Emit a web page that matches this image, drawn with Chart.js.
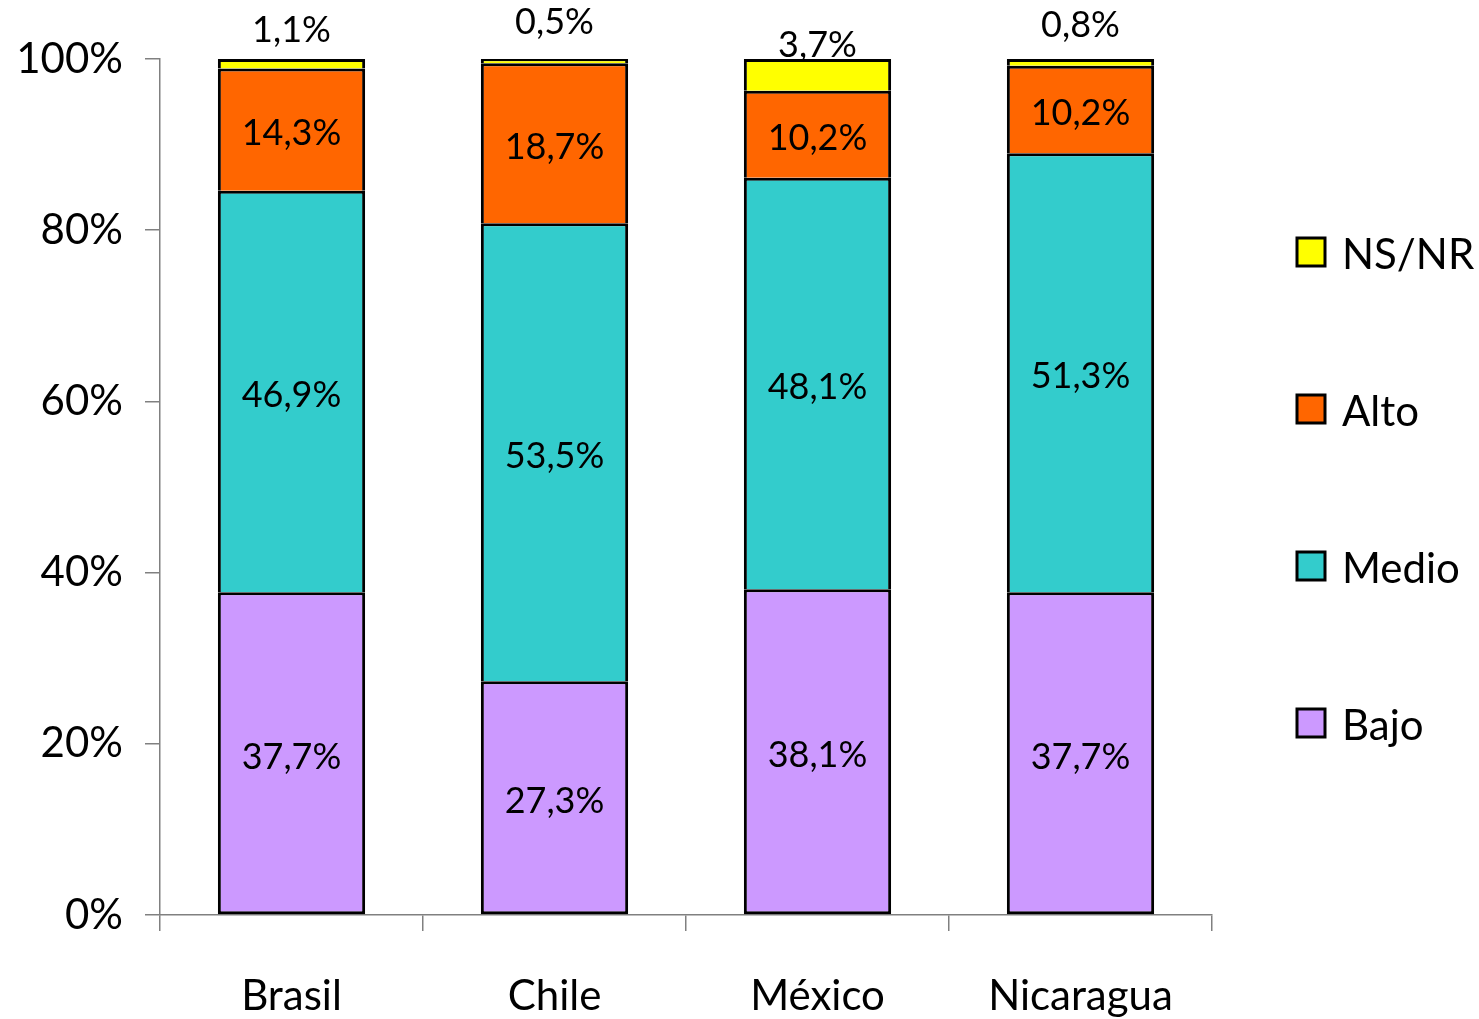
<!DOCTYPE html>
<html>
<head>
<meta charset="utf-8">
<script src="https://cdn.jsdelivr.net/npm/chart.js@4/dist/chart.umd.min.js"></script>
<style>
html, body { margin: 0; padding: 0; background: #fff; }
</style>
</head>
<body>
<canvas id="chart" width="1479" height="1019"></canvas>
<script>
// === DATA ===
const countries = ['Brasil', 'Chile', 'México', 'Nicaragua'];
const seriesNames = ['Bajo', 'Medio', 'Alto', 'NS/NR'];
const bajo = [37.7, 27.3, 38.1, 37.7];
const medio = [46.9, 53.5, 48.1, 51.3];
const alto = [14.3, 18.7, 10.2, 10.2];
const nsnr = [1.1, 0.5, 3.7, 0.8];
const yTicks = [0, 20, 40, 60, 80, 100];

// === STYLE ===
const COLORS = ['#CC99FF', '#33CCCC', '#FF6600', '#FFFF00'];
const AXIS_COLOR = '#808080';
const FONT = 'Lato';
const topLabelLift = [29, 37, 14, 34]; // px above bar top for NS/NR labels

const raw = [bajo, medio, alto, nsnr];
const totals = countries.map((_, j) => raw.reduce((s, arr) => s + arr[j], 0));

function fmt(v) {
    return v.toFixed(1).replace('.', ',') + '%';
}

const datasets = raw.map((arr, i) => ({
    label: seriesNames[i],
    data: arr.map((v, j) => v / totals[j] * 100),
    rawValues: arr,
    backgroundColor: COLORS[i],
    borderColor: '#000',
    borderWidth: { left: 3, right: 3, top: 3, bottom: i === 0 ? 3 : 0 },
    borderSkipped: false,
    barPercentage: 0.56,
    categoryPercentage: 1.0
}));

const labelsPlugin = {
    id: 'segmentLabels',
    afterDatasetsDraw(chart) {
        const ctx = chart.ctx;
        ctx.save();
        ctx.fillStyle = '#000';
        ctx.textAlign = 'center';
        ctx.textBaseline = 'middle';
        ctx.font = '36px ' + FONT;
        chart.data.datasets.forEach((ds, i) => {
            const meta = chart.getDatasetMeta(i);
            meta.data.forEach((bar, j) => {
                let y;
                if (i === chart.data.datasets.length - 1) {
                    y = bar.y - topLabelLift[j];
                } else {
                    y = (bar.y + bar.base) / 2 + 4;
                }
                ctx.fillText(fmt(ds.rawValues[j]), bar.x, y);
            });
        });
        ctx.restore();
    }
};

const legendPlugin = {
    id: 'sideLegend',
    afterDraw(chart) {
        const ctx = chart.ctx;
        const items = chart.data.datasets.slice().reverse();
        ctx.save();
        ctx.font = '42px ' + FONT;
        ctx.textBaseline = 'middle';
        ctx.textAlign = 'left';
        items.forEach((ds, k) => {
            const cy = 252 + k * 157;
            ctx.fillStyle = ds.backgroundColor;
            ctx.fillRect(1297, cy - 14, 28, 28);
            ctx.lineWidth = 3;
            ctx.strokeStyle = '#000';
            ctx.strokeRect(1297, cy - 14, 28, 28);
            ctx.fillStyle = '#000';
            ctx.fillText(ds.label, 1342, cy + 3);
        });
        ctx.restore();
    }
};

new Chart(document.getElementById('chart'), {
    type: 'bar',
    data: {
        labels: countries,
        datasets: datasets
    },
    options: {
        responsive: false,
        animation: false,
        layout: {
            padding: { top: 59, right: 267, left: 0, bottom: 0 }
        },
        plugins: {
            legend: { display: false },
            tooltip: { enabled: false }
        },
        scales: {
            x: {
                stacked: true,
                afterFit: scale => { scale.height = 104; },
                border: { color: AXIS_COLOR, width: 1.5 },
                grid: {
                    offset: true,
                    drawOnChartArea: false,
                    tickLength: 16,
                    color: AXIS_COLOR,
                    lineWidth: 1.5
                },
                ticks: {
                    color: '#000',
                    padding: 40,
                    font: { family: FONT, size: 42 }
                }
            },
            y: {
                stacked: true,
                min: 0,
                max: 100,
                afterFit: scale => { scale.width = 160; },
                afterBuildTicks: scale => {
                    scale.ticks = yTicks.map(v => ({ value: v }));
                },
                border: { color: AXIS_COLOR, width: 1.5 },
                grid: {
                    drawOnChartArea: false,
                    tickLength: 15,
                    color: AXIS_COLOR,
                    lineWidth: 1.5
                },
                ticks: {
                    color: '#000',
                    padding: 22,
                    font: { family: FONT, size: 42 },
                    callback: v => v + '%'
                }
            }
        }
    },
    plugins: [labelsPlugin, legendPlugin]
});
</script>
</body>
</html>
